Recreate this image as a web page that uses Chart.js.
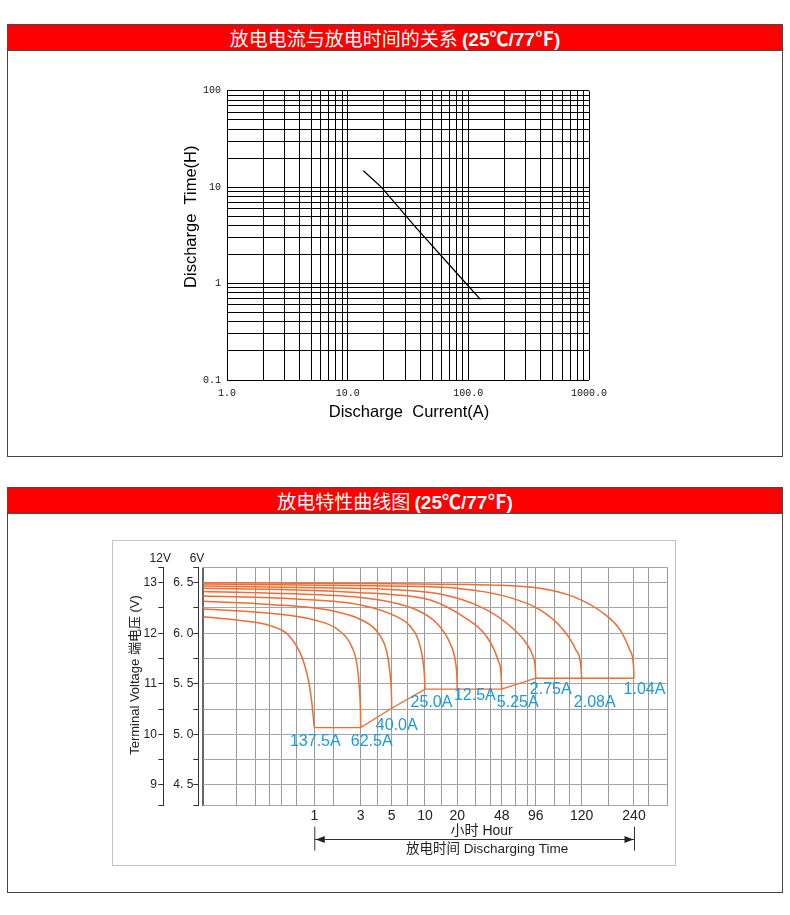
<!DOCTYPE html>
<html><head><meta charset="utf-8">
<script src="https://cdn.jsdelivr.net/npm/chart.js@4.4.1/dist/chart.umd.min.js"></script>
<style>
html,body{margin:0;padding:0;background:#fff;}
body{width:790px;height:915px;position:relative;overflow:hidden;font-family:"Liberation Sans",Arial,sans-serif;}
.bar{position:absolute;left:7px;width:776px;height:27px;background:#ff0000;border:1px solid #4a4a4a;box-sizing:border-box;color:#fff;text-align:center;font:19px/25px "Noto Sans CJK SC",sans-serif;}
.bar b{font-family:"Liberation Sans","Noto Sans CJK SC",sans-serif;font-weight:bold;}
.panel{position:absolute;left:7px;width:776px;border:1px solid #444;border-top:none;box-sizing:border-box;}
#box2{position:absolute;left:112px;top:540px;width:564px;height:326px;border:1px solid #c4c4c4;box-sizing:border-box;}
.wrap{position:absolute;}
</style></head><body>
<div class="bar" style="top:24px">放电电流与放电时间的关系 <b>(25℃/77℉)</b></div>
<div class="panel" style="top:51px;height:406px"></div>
<div class="bar" style="top:487px">放电特性曲线图 <b>(25℃/77℉)</b></div>
<div class="panel" style="top:514px;height:379px"></div>
<div id="box2"></div>
<div class="wrap" style="left:8px;top:52px;width:774px;height:403px"><canvas id="c1"></canvas></div>
<div class="wrap" style="left:113px;top:541px;width:562px;height:324px"><canvas id="c2"></canvas></div>
<script>
// ---------- Chart 1: discharge current vs discharge time (log-log) ----------
const currentDecades = [1, 10, 100, 1000];
const currentTickLabels = ['1.0', '10.0', '100.0', '1000.0'];
const timeDecades = [0.1, 1, 10, 100];
const timeTickLabels = ['0.1', '1', '10', '100'];
const dischargeCurrentA = [13.5, 19, 37.3, 96.6, 126];
const dischargeTimeH = [14.8, 10, 3.73, 0.99, 0.686];

// ---------- Chart 2: discharge characteristics ----------
// non-uniform time axis (axis units 0..100 across the plot)
const hourLabels = ['1', '3', '5', '10', '20', '48', '96', '120', '240'];
const hourLabelAt = [23.92, 33.92, 40.6, 47.78, 54.74, 64.31, 71.64, 81.55, 92.82];
const timeGridAt = [0, 7.2, 11.29, 14.37, 16.9, 20.13, 23.92, 28.02, 33.92, 37.5, 40.6, 43.97, 47.78, 51.34,
  54.74, 58.71, 61.94, 64.31, 67.18, 69.91, 71.64, 75.65, 79.03, 81.55, 87.28, 92.82, 95.91, 100];
const volt6Grid = [4.5, 4.75, 5.0, 5.25, 5.5, 5.75, 6.0, 6.25, 6.5];
const volt6LabelAt = [4.5, 5.0, 5.5, 6.0, 6.5];
const volt6Labels = ['4. 5', '5. 0', '5. 5', '6. 0', '6. 5'];
const volt12LabelAt = [9, 10, 11, 12, 13];
const volt12Labels = ['9', '10', '11', '12', '13'];
const currentNames = ['137.5A', '62.5A', '40.0A', '25.0A', '12.5A', '5.25A', '2.75A', '2.08A', '1.04A'];
// curves: [axis position, voltage (6V scale)]
const c137_5 = [[0,6.164],[7.2,6.131],[14.37,6.075],[18.32,5.983],[21.21,5.769],[22.63,5.539],[23.32,5.341],[23.92,5.067]];
const c62_5 = [[0,6.240],[14.37,6.198],[23.92,6.131],[29.09,6.033],[31.98,5.868],[33.19,5.670],[33.66,5.440],[33.86,5.242],[33.92,5.067]];
const c40_0 = [[0,6.316],[14.37,6.285],[28.02,6.220],[34.14,6.131],[37.72,6.000],[39.6,5.802],[40.3,5.571],[40.55,5.390],[40.6,5.259]];
const c25_0 = [[0,6.369],[20.13,6.339],[33.92,6.280],[41.31,6.171],[44.55,6.072],[46.34,5.934],[47.24,5.756],[47.65,5.588],[47.78,5.447]];
const c12_5 = [[0,6.413],[20.84,6.388],[33.92,6.354],[41.31,6.299],[45.99,6.230],[50.3,6.099],[53.17,5.901],[54.35,5.716],[54.66,5.568],[54.74,5.447]];
const c5_25 = [[0,6.445],[20.84,6.428],[33.92,6.401],[40.24,6.383],[48.86,6.329],[56.03,6.164],[61.08,5.966],[63.5,5.736],[64.18,5.588],[64.31,5.447]];
const c2_75 = [[0,6.467],[20.84,6.453],[40.24,6.433],[51.01,6.388],[59.63,6.263],[65.39,6.099],[69.6,5.901],[71.1,5.766],[71.55,5.657],[71.64,5.555]];
const c2_08 = [[0,6.487],[20.84,6.477],[40.24,6.467],[54.61,6.445],[65.39,6.362],[72.57,6.230],[77.59,6.033],[80.3,5.835],[81.35,5.687],[81.55,5.555]];
const c1_04 = [[0,6.500],[20.84,6.495],[40.24,6.489],[61.79,6.477],[72.57,6.445],[79.74,6.362],[86.21,6.198],[89.81,6.033],[91.9,5.835],[92.7,5.687],[92.82,5.555]];
const cutoffLine = [[23.92,5.067],[33.92,5.067],[40.6,5.259],[47.78,5.447],[54.74,5.447],[64.31,5.447],[71.64,5.555],[81.55,5.555],[92.82,5.555]];

// label placement (px offsets from each curve's end point) -- style, not data
const labelOffsets = [[1,14],[11,14],[5,17],[6.5,13],[17.5,6],[16,13],[15,11],[13,24],[10.5,11]];

const SANS = '"Liberation Sans", Arial, "Noto Sans CJK SC", sans-serif';
const MONO = '"Liberation Mono", "DejaVu Sans Mono", monospace';

function logGrid(decades) {
  const out = [];
  for (let i = 0; i < decades.length - 1; i++) for (let m = 1; m < 10; m++) out.push({ value: decades[i] * m });
  out.push({ value: decades[decades.length - 1] });
  return out;
}
function labelFor(value, at, labels) {
  const k = at.findIndex(a => Math.abs(a - value) < 1e-6 * Math.max(1, Math.abs(a)));
  return k >= 0 ? labels[k] : '';
}

const titles1 = {
  id: 'titles1',
  afterDraw(chart) {
    const { ctx, chartArea: a } = chart;
    ctx.save();
    ctx.fillStyle = '#000';
    ctx.font = '16.5px ' + SANS;
    ctx.textAlign = 'center'; ctx.textBaseline = 'middle';
    ctx.fillText('Discharge  Current(A)', (a.left + a.right) / 2 + 1, a.bottom + 32);
    ctx.translate(a.left - 36, a.top + 126);
    ctx.rotate(-Math.PI / 2);
    ctx.fillText('Discharge  Time(H)', 0, 0);
    ctx.restore();
  }
};

new Chart(document.getElementById('c1'), {
  type: 'line',
  data: {
    datasets: [{
      data: dischargeCurrentA.map((c, i) => ({ x: c, y: dischargeTimeH[i] })),
      borderColor: '#000', borderWidth: 1.3, pointRadius: 0, tension: 0, fill: false
    }]
  },
  options: {
    responsive: true, maintainAspectRatio: false, animation: false,
    layout: { padding: { top: 38.7, right: 193, left: 0, bottom: 0 } },
    plugins: { legend: { display: false }, tooltip: { enabled: false } },
    scales: {
      x: {
        type: 'logarithmic', min: 1, max: 1000,
        afterBuildTicks: s => { s.ticks = logGrid(currentDecades); },
        afterFit: s => { s.height = 75; },
        grid: { color: '#000', lineWidth: 1, drawTicks: false },
        border: { display: false },
        ticks: { autoSkip: false, maxRotation: 0, minRotation: 0, padding: 7, color: '#111',
          font: { family: MONO, size: 10 },
          callback: v => labelFor(v, currentDecades, currentTickLabels) }
      },
      y: {
        type: 'logarithmic', min: 0.1, max: 100,
        afterBuildTicks: s => { s.ticks = logGrid(timeDecades); },
        afterFit: s => { s.width = 219; },
        grid: { color: '#000', lineWidth: 1, drawTicks: false },
        border: { display: false },
        ticks: { autoSkip: false, padding: 6, color: '#111',
          font: { family: MONO, size: 10 },
          callback: v => labelFor(v, timeDecades, timeTickLabels) }
      }
    }
  },
  plugins: [titles1]
});

// ---------- chart 2 ----------
const V6MIN = 4.295, V6MAX = 6.65;
const ORANGE = '#ef6c33';
const curves = [c137_5, c62_5, c40_0, c25_0, c12_5, c5_25, c2_75, c2_08, c1_04];

const annot2 = {
  id: 'annot2',
  afterDraw(chart) {
    const { ctx, chartArea: a, scales } = chart;
    const xs = scales.x, ys = scales.y;
    ctx.save();
    // current labels
    ctx.fillStyle = '#1d9ad6';
    ctx.font = '16px ' + SANS;
    ctx.textAlign = 'center'; ctx.textBaseline = 'middle';
    curves.forEach((c, i) => {
      const e = c[c.length - 1];
      ctx.fillText(currentNames[i], xs.getPixelForValue(e[0]) + labelOffsets[i][0], ys.getPixelForValue(e[1]) + labelOffsets[i][1]);
    });
    // axis headers
    ctx.fillStyle = '#222';
    ctx.font = '12px ' + SANS;
    ctx.fillText('12V', scales.y12.right - 3, a.top - 9);
    ctx.fillText('6V', scales.y6.right - 1.3, a.top - 9);
    // y title
    ctx.save();
    ctx.font = '13px ' + SANS;
    ctx.translate(a.left - 68.3, a.top + 107.5);
    ctx.rotate(-Math.PI / 2);
    ctx.fillText('Terminal Voltage 端电压 (V)', 0, 0);
    ctx.restore();
    // time span arrow
    const x1 = xs.getPixelForValue(hourLabelAt[0]) + 0.5;
    const x2 = xs.getPixelForValue(hourLabelAt[hourLabelAt.length - 1]) + 0.5;
    const mid = (x1 + x2) / 2;
    ctx.font = '14px ' + SANS;
    ctx.fillText('小时 Hour', mid + 7, a.bottom + 25);
    ctx.font = '13.5px ' + SANS;
    ctx.fillText('放电时间 Discharging Time', mid + 12.5, a.bottom + 44);
    const ay = Math.round(a.bottom + 33.6) + 0.5;
    ctx.strokeStyle = '#333'; ctx.lineWidth = 1;
    ctx.beginPath();
    ctx.moveTo(x1, a.bottom + 21); ctx.lineTo(x1, a.bottom + 45);
    ctx.moveTo(x2, a.bottom + 21); ctx.lineTo(x2, a.bottom + 45);
    ctx.moveTo(x1, ay); ctx.lineTo(x2, ay);
    ctx.stroke();
    ctx.fillStyle = '#222';
    ctx.beginPath();
    ctx.moveTo(x1 + 1, ay); ctx.lineTo(x1 + 10, ay - 3.5); ctx.lineTo(x1 + 10, ay + 3.5); ctx.closePath();
    ctx.moveTo(x2 - 1, ay); ctx.lineTo(x2 - 10, ay - 3.5); ctx.lineTo(x2 - 10, ay + 3.5); ctx.closePath();
    ctx.fill();
    ctx.restore();
  }
};

const ds2 = curves.map(c => ({
  data: c.map(p => ({ x: p[0], y: p[1] })),
  borderColor: ORANGE, borderWidth: 1.5, pointRadius: 0, cubicInterpolationMode: 'monotone', fill: false
}));
ds2.push({ data: cutoffLine.map(p => ({ x: p[0], y: p[1] })), borderColor: ORANGE, borderWidth: 1.3, pointRadius: 0, tension: 0, fill: false });

new Chart(document.getElementById('c2'), {
  type: 'line',
  data: { datasets: ds2 },
  options: {
    responsive: true, maintainAspectRatio: false, animation: false,
    layout: { padding: { top: 26.5, right: 7.7, left: 0, bottom: 0 } },
    plugins: { legend: { display: false }, tooltip: { enabled: false } },
    scales: {
      x: {
        type: 'linear', min: 0, max: 100,
        afterBuildTicks: s => { s.ticks = timeGridAt.map(v => ({ value: v })); },
        afterFit: s => { s.height = 59.3; },
        grid: { color: c => (c.tick && c.tick.value === 0) ? '#666' : '#9a9a9a', lineWidth: c => (c.tick && c.tick.value === 0) ? 2 : 1, drawTicks: false },
        border: { display: false },
        ticks: { autoSkip: false, maxRotation: 0, minRotation: 0, padding: 2, color: '#222',
          font: { family: SANS, size: 14 },
          callback: v => labelFor(v, hourLabelAt, hourLabels) }
      },
      y: {
        type: 'linear', position: 'left', weight: 0, min: V6MIN, max: V6MAX,
        afterBuildTicks: s => { s.ticks = [V6MIN, ...volt6Grid, V6MAX].map(v => ({ value: v })); },
        afterFit: s => { s.width = 5; },
        grid: { color: '#a5a5a5', lineWidth: 1, drawTicks: false },
        border: { display: false },
        ticks: { display: false, autoSkip: false }
      },
      y6: {
        type: 'linear', position: 'left', weight: 1, min: V6MIN, max: V6MAX,
        afterBuildTicks: s => { s.ticks = [V6MIN, ...volt6Grid, V6MAX].map(v => ({ value: v })); },
        afterFit: s => { s.width = 35; },
        grid: { drawOnChartArea: false, drawTicks: true, tickLength: 5, color: '#333' },
        border: { display: true, color: '#333', width: 1 },
        ticks: { autoSkip: false, padding: 0, color: '#222', font: { family: SANS, size: 12 },
          callback: v => labelFor(v, volt6LabelAt, volt6Labels) }
      },
      y12: {
        type: 'linear', position: 'left', weight: 2, min: V6MIN * 2, max: V6MAX * 2,
        afterBuildTicks: s => { s.ticks = [V6MIN * 2, ...volt6Grid.map(v => v * 2), V6MAX * 2].map(v => ({ value: v })); },
        afterFit: s => { s.width = 50.3; },
        grid: { drawOnChartArea: false, drawTicks: true, tickLength: 5, color: '#333' },
        border: { display: true, color: '#333', width: 1 },
        ticks: { autoSkip: false, padding: 1.5, color: '#222', font: { family: SANS, size: 12 },
          callback: v => labelFor(v, volt12LabelAt, volt12Labels) }
      }
    }
  },
  plugins: [annot2]
});
</script>
</body></html>
